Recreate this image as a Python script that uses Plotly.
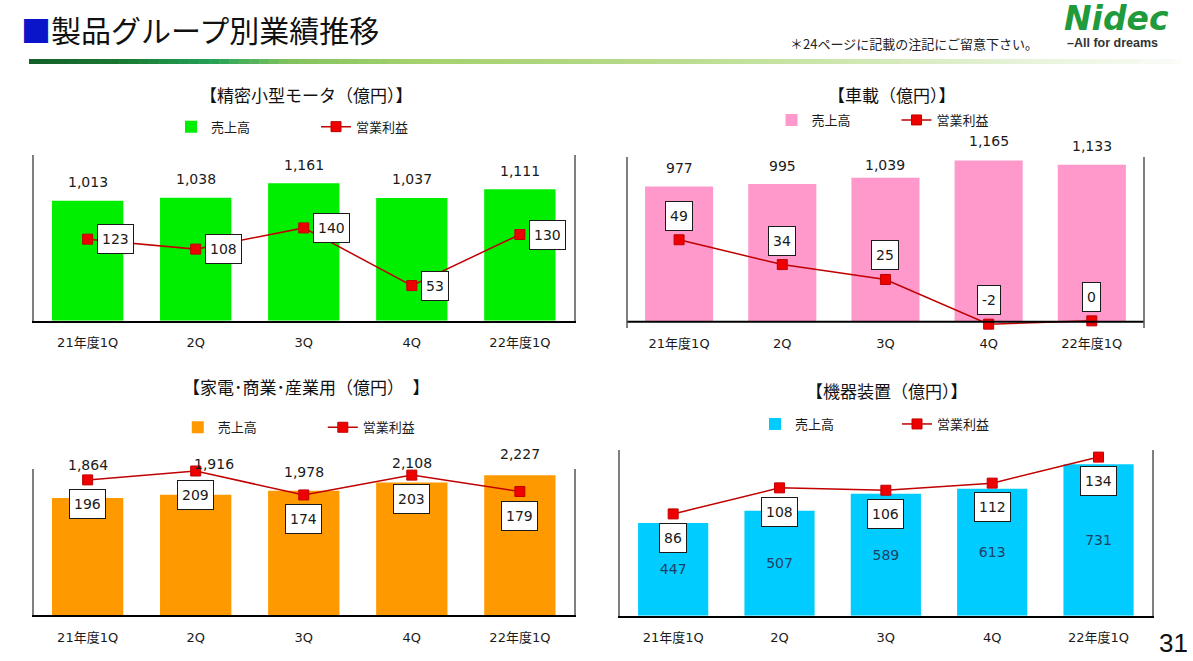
import plotly.graph_objects as go

W, H = 1193, 661

# ---------------- data ----------------
CATEGORIES = ["21年度1Q", "2Q", "3Q", "4Q", "22年度1Q"]

MOTOR_SALES = [1013, 1038, 1161, 1037, 1111]
MOTOR_PROFIT = [123, 108, 140, 53, 130]

AUTO_SALES = [977, 995, 1039, 1165, 1133]
AUTO_PROFIT = [49, 34, 25, -2, 0]

APPL_SALES = [1864, 1916, 1978, 2108, 2227]
APPL_PROFIT = [196, 209, 174, 203, 179]

MACH_SALES = [447, 507, 589, 613, 731]
MACH_PROFIT = [86, 108, 106, 112, 134]

CHART_TITLES = ["【精密小型モータ（億円）】", "【車載（億円）】",
                "【家電･商業･産業用（億円）　】", "【機器装置（億円）】"]
SALES_NAME = "売上高"
PROFIT_NAME = "営業利益"

PAGE_TITLE = "製品グループ別業績推移"
PAGE_NOTE = "＊24ページに記載の注記にご留意下さい。"
PAGE_NUMBER = "31"

# ---------------- style ----------------
NUM_FONT = "DejaVu Sans, Noto Sans CJK JP"
JP_FONT = "Noto Sans CJK JP, DejaVu Sans"
LINE_COLOR = "#c00000"
MARKER_COLOR = "#ee0000"


def px_x(p):
    return p / W


def px_y(p):
    return 1 - p / H


CHARTS = [
    dict(sales=MOTOR_SALES, profit=MOTOR_PROFIT, color="#00ee00",
         xpx=(33.6, 573.9), ypx=(155, 320.7), prim=[0, 1400], sec=[0, 250],
         title_xy=(306, 95), leg_x=171, leg_y=126.7, leg_w=100,
         bar_dy=[18.5] * 5, bar_dx=[0] * 5, line_lab="right", standoff=9),
    dict(sales=AUTO_SALES, profit=AUTO_PROFIT, color="#ff99cc",
         xpx=(627.5, 1143.4), ypx=(156.7, 328.3), prim=[-48, 1192], sec=[-4.5, 99.2],
         title_xy=(892, 94), leg_x=771.5, leg_y=120, leg_w=80,
         bar_dy=[18.4, 18, 12.7, 19.3, 19.3], bar_dx=[0] * 5, line_lab="above",
         standoff=6),
    dict(sales=APPL_SALES, profit=APPL_PROFIT, color="#ff9900",
         xpx=(33.6, 573.9), ypx=(469.3, 615), prim=[0, 2320], sec=[-1.5, 211.5],
         title_xy=(306, 386.7), leg_x=177.8, leg_y=427.3, leg_w=100,
         bar_dy=[33.4, 30.4, 19, 20, 21.6], bar_dx=[0, 18.5, 0, 0, 0],
         line_lab="below", standoff=9),
    dict(sales=MACH_SALES, profit=MACH_PROFIT, color="#00ccff",
         xpx=(620, 1151.7), ypx=(450, 615.7), prim=[0, 800], sec=[0, 140],
         title_xy=(887, 390), leg_x=755, leg_y=424, leg_w=97,
         bar_dy=None, bar_dx=None, line_lab="below", standoff=9),
]

fig = go.Figure()
annotations = []
shapes = []
layout = dict(
    width=W, height=H, autosize=False,
    margin=dict(l=0, r=0, t=0, b=0),
    paper_bgcolor="white", plot_bgcolor="white",
    bargap=0.34, showlegend=True,
    font=dict(family=NUM_FONT, color="#1a1a1a"),
)

for i, c in enumerate(CHARTS):
    k = i + 1
    xa = "x" if k == 1 else f"x{k}"
    yp_n = 2 * k - 1
    ys_n = 2 * k
    yp = "y" if yp_n == 1 else f"y{yp_n}"
    ys = f"y{ys_n}"
    leg = "legend" if k == 1 else f"legend{k}"

    bar_kwargs = {}
    if c["bar_dy"] is None:
        bar_kwargs = dict(
            text=[f"{v:,}" for v in c["sales"]], textposition="inside",
            insidetextanchor="middle", textangle=0, constraintext="none",
            textfont=dict(family=NUM_FONT, size=14, color="#1f3f66"),
        )
    fig.add_trace(go.Bar(
        x=CATEGORIES, y=c["sales"], name=SALES_NAME, xaxis=xa, yaxis=yp,
        marker=dict(color=c["color"], line=dict(width=0)), legend=leg,
        hoverinfo="skip", **bar_kwargs))
    fig.add_trace(go.Scatter(
        x=CATEGORIES, y=c["profit"], name=PROFIT_NAME, xaxis=xa, yaxis=ys,
        mode="lines+markers", line=dict(color=LINE_COLOR, width=1.5),
        marker=dict(symbol="square", size=10, color=MARKER_COLOR,
                    line=dict(color=LINE_COLOR, width=1)),
        cliponaxis=False, legend=leg, hoverinfo="skip"))

    xdom = [px_x(c["xpx"][0]), px_x(c["xpx"][1])]
    ydom = [px_y(c["ypx"][1]), px_y(c["ypx"][0])]
    xkey = "xaxis" if k == 1 else f"xaxis{k}"
    layout[xkey] = dict(
        domain=xdom, anchor=yp, type="category", showgrid=False, zeroline=False,
        showline=(k != 2), linecolor="black", linewidth=2, ticks="",
        ticklabelstandoff=c["standoff"],
        tickfont=dict(family=NUM_FONT, size=13, color="#1a1a1a"), fixedrange=True)
    ypkey = "yaxis" if yp_n == 1 else f"yaxis{yp_n}"
    layout[ypkey] = dict(
        domain=ydom, anchor=xa, range=c["prim"], showgrid=False, zeroline=False,
        showline=True, linecolor="#7f7f7f", linewidth=1.5, ticks="",
        showticklabels=False, fixedrange=True)
    layout[f"yaxis{ys_n}"] = dict(
        overlaying=yp, anchor=xa, side="right", range=c["sec"], showgrid=False,
        zeroline=False, showline=True, linecolor="#7f7f7f", linewidth=1.5,
        ticks="", showticklabels=False, fixedrange=True)

    if k == 2:
        shapes.append(dict(type="line", xref=f"{xa} domain", x0=0, x1=1,
                           yref=yp, y0=0, y1=0, layer="above",
                           line=dict(color="black", width=2)))

    layout[leg] = dict(
        orientation="h", x=px_x(c["leg_x"]), xanchor="left",
        y=px_y(c["leg_y"]), yanchor="middle", entrywidth=c["leg_w"],
        entrywidthmode="pixels", bgcolor="rgba(0,0,0,0)", borderwidth=0,
        font=dict(family=JP_FONT, size=13, color="#1a1a1a"),
        traceorder="normal", itemclick=False, itemdoubleclick=False)

    # chart title
    annotations.append(dict(
        text=CHART_TITLES[i], xref="paper", yref="paper",
        x=px_x(c["title_xy"][0]), y=px_y(c["title_xy"][1]),
        xanchor="center", yanchor="middle", showarrow=False,
        font=dict(family=JP_FONT, size=17, color="#111111")))

    # sales labels above bars
    if c["bar_dy"] is not None:
        for j, (cat, v) in enumerate(zip(CATEGORIES, c["sales"])):
            annotations.append(dict(
                text=f"{v:,}", x=cat, y=v, xref=xa, yref=yp,
                xanchor="center", yanchor="middle", showarrow=False,
                yshift=c["bar_dy"][j], xshift=c["bar_dx"][j],
                font=dict(family=NUM_FONT, size=14, color="#1a1a1a")))

    # profit labels in boxes
    for cat, v in zip(CATEGORIES, c["profit"]):
        a = dict(text=str(v), x=cat, y=v, xref=xa, yref=ys, showarrow=False,
                 bgcolor="white", bordercolor="#1a1a1a", borderwidth=1,
                 borderpad=4, height=20,
                 font=dict(family=NUM_FONT, size=14, color="#1a1a1a"))
        if c["line_lab"] == "right":
            a.update(xanchor="left", yanchor="middle", xshift=9.5)
        elif c["line_lab"] == "above":
            a.update(xanchor="center", yanchor="bottom", yshift=9)
        else:
            a.update(xanchor="center", yanchor="top", yshift=-9)
        annotations.append(a)

# ---------------- page header / footer ----------------
annotations.append(dict(
    text=f'<span style="color:#0a14c8">■</span>{PAGE_TITLE}',
    xref="paper", yref="paper", x=px_x(19), y=px_y(29), xanchor="left",
    yanchor="middle", showarrow=False,
    font=dict(family=JP_FONT, size=30, color="#111111")))
annotations.append(dict(
    text=PAGE_NOTE, xref="paper", yref="paper", x=px_x(1040), y=px_y(44),
    xanchor="right", yanchor="middle", showarrow=False,
    font=dict(family=JP_FONT, size=13, color="#222222")))
annotations.append(dict(
    text="<b><i>Nidec</i></b>", xref="paper", yref="paper", x=px_x(1116),
    y=px_y(18), xanchor="center", yanchor="middle", showarrow=False,
    font=dict(family="DejaVu Sans", size=33, color="#1f9a3c")))
annotations.append(dict(
    text="<b>–All for dreams</b>", xref="paper", yref="paper", x=px_x(1112),
    y=px_y(43), xanchor="center", yanchor="middle", showarrow=False,
    font=dict(family="Liberation Sans", size=12.5, color="#333333")))
annotations.append(dict(
    text=PAGE_NUMBER, xref="paper", yref="paper", x=px_x(1173), y=px_y(643),
    xanchor="center", yanchor="middle", showarrow=False,
    font=dict(family="Liberation Sans Narrow, Liberation Sans", size=26,
              color="#111111")))

# gradient rule under the header (decoration)
STOPS = [(29, (20, 95, 40)), (120, (25, 120, 50)), (210, (35, 160, 85)),
         (290, (130, 195, 95)), (420, (165, 210, 110)), (600, (178, 216, 132)),
         (800, (200, 228, 165)), (1000, (228, 241, 212)), (1180, (250, 252, 248))]


def grad_color(p):
    for (p0, c0), (p1, c1) in zip(STOPS[:-1], STOPS[1:]):
        if p0 <= p <= p1:
            t = (p - p0) / (p1 - p0)
            return "rgb(%d,%d,%d)" % tuple(round(a + (b - a) * t) for a, b in zip(c0, c1))
    return "rgb(%d,%d,%d)" % STOPS[-1][1]


N_SEG = 115
x_start, x_end = 29, 1180
seg = (x_end - x_start) / N_SEG
for s in range(N_SEG):
    a0 = x_start + s * seg
    shapes.append(dict(type="rect", xref="paper", yref="paper",
                       x0=px_x(a0), x1=px_x(a0 + seg + 0.6),
                       y0=px_y(64), y1=px_y(59), line=dict(width=0),
                       fillcolor=grad_color(a0 + seg / 2), layer="below"))

layout["annotations"] = annotations
layout["shapes"] = shapes
fig.update_layout(**layout)

fig.write_html(
    "out.html", include_plotlyjs=True, config={"displayModeBar": False},
    post_script="document.body.style.margin='0';document.body.style.overflow='hidden';")
